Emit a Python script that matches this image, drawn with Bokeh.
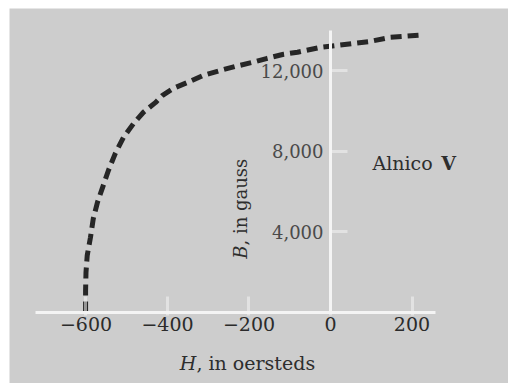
from bokeh.plotting import figure
from bokeh.models import LinearAxis, FixedTicker, Label, Range1d
from bokeh.embed import file_html
from bokeh.resources import INLINE

# Demagnetization curve of Alnico V
H_oersted = [-601, -601, -600, -597, -589, -582, -572, -545, -528, -508, -483,
             -459, -429, -412, -385, -344, -312, -270, -233, -191, -155, -115,
             -81, -25, 17, 98, 147, 216]
B_gauss = [0, 1090, 1990, 2830, 3730, 4670, 5460, 7050, 7900, 8690, 9390,
           9940, 10430, 10780, 11130, 11480, 11770, 12020, 12220, 12420, 12620,
           12820, 12920, 13160, 13260, 13460, 13660, 13760]

x_ticks = [-600, -400, -200, 0, 200]
x_tick_labels = ["\u2212600", "\u2212400", "\u2212200", "0", "200"]
y_ticks = [4000, 8000, 12000]
y_tick_labels = ["4,000", "8,000", "12,000"]

BG = "#cdcdcd"
SERIF = "DejaVu Serif"

p = figure(width=508, height=383, output_backend="svg", toolbar_location=None,
           x_axis_location=None, y_axis_location=None,
           x_range=Range1d(-787.7, 436.8), y_range=Range1d(-3525, 15092),
           min_border_left=9, min_border_right=0,
           min_border_top=8, min_border_bottom=0)
p.background_fill_color = BG
p.border_fill_color = "white"
p.outline_line_color = None
p.grid.visible = False

xaxis = LinearAxis(fixed_location=0, bounds=(-724, 258),
                   ticker=FixedTicker(ticks=x_ticks),
                   major_label_overrides=dict(zip(x_ticks, x_tick_labels)))
yaxis = LinearAxis(fixed_location=0, bounds=(0, 14000),
                   ticker=FixedTicker(ticks=y_ticks),
                   major_label_overrides=dict(zip(y_ticks, y_tick_labels)))

for ax in (xaxis, yaxis):
    ax.axis_line_color = "#f4f4f4"
    ax.axis_line_width = 3
    ax.major_tick_line_color = "#f4f4f4"
    ax.major_tick_line_alpha = 0.55
    ax.major_tick_line_width = 3
    ax.minor_tick_line_color = None
    ax.major_label_text_font = SERIF

xaxis.major_tick_in = 16
xaxis.major_tick_out = 3
xaxis.major_label_standoff = 2
xaxis.major_label_text_font_size = "19px"
xaxis.major_label_text_color = "#2b2b2b"

yaxis.major_tick_in = 17
yaxis.major_tick_out = 0
yaxis.major_label_standoff = 7
yaxis.major_label_text_font_size = "18px"
yaxis.major_label_text_color = "#4a4a4a"

p.add_layout(xaxis, "below")
p.add_layout(yaxis, "left")

p.line(H_oersted, B_gauss, line_color="#262626", line_width=5,
       line_dash="11 6", line_cap="butt")

TXT = "#2e2e2e"
# x-axis title: "H, in oersteds"
p.add_layout(Label(x=-329, y=-2500, text="H", text_font=SERIF,
                   text_font_style="italic", text_font_size="19px",
                   text_color=TXT, text_align="right", text_baseline="middle"))
p.add_layout(Label(x=-329, y=-2500, text=", in oersteds", text_font=SERIF,
                   text_font_size="19px", text_color=TXT,
                   text_align="left", text_baseline="middle"))
# y-axis title: "B, in gauss" (rotated)
p.add_layout(Label(x=-221, y=3326, text="B", text_font=SERIF,
                   text_font_style="italic", text_font_size="18px",
                   text_color=TXT, text_align="right", text_baseline="middle",
                   angle=90, angle_units="deg"))
p.add_layout(Label(x=-221, y=3326, text=", in gauss", text_font=SERIF,
                   text_font_size="18px", text_color=TXT,
                   text_align="left", text_baseline="middle",
                   angle=90, angle_units="deg"))
# material name
p.add_layout(Label(x=103, y=7400, text="Alnico", text_font=SERIF,
                   text_font_size="19px", text_color=TXT,
                   text_align="left", text_baseline="middle"))
p.add_layout(Label(x=272, y=7400, text="V", text_font=SERIF,
                   text_font_style="bold", text_font_size="19px",
                   text_color=TXT, text_align="left", text_baseline="middle"))

open("out.html", "w").write(file_html(p, INLINE))
